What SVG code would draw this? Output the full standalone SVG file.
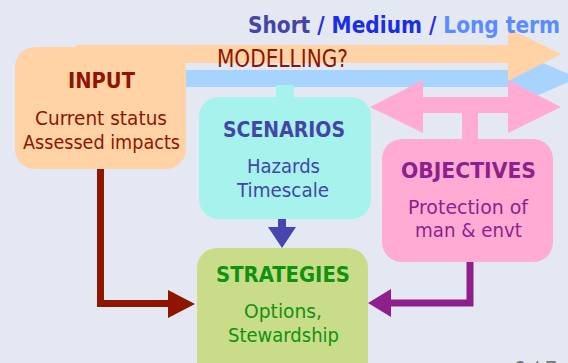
<svg xmlns="http://www.w3.org/2000/svg" width="568" height="363" viewBox="0 0 568 363">
  <style>
    text { font-family: "DejaVu Sans Condensed", "DejaVu Sans", sans-serif; }
    .ttl { font-size: 23px; font-weight: bold; }
    .hd { font-size: 22px; font-weight: bold; text-anchor: middle; }
    .bd { font-size: 19px; text-anchor: middle; }
    .box { stroke: none; }
  </style>
  <rect x="0" y="0" width="568" height="363" fill="#e4e8f2"/>

  <g id="timeline">
    <!-- blue arrow -->
    <rect x="180" y="70" width="330" height="17" fill="#a7d3ff"/>
    <polygon points="508,48 578,78 508,108" fill="#a7d3ff"/>
    <!-- orange arrow -->
    <rect x="76" y="45" width="434" height="18" fill="#ffd3a6"/>
    <polygon points="508,28 561,54 508,81" fill="#ffd3a6"/>
    <!-- pink double arrow -->
    <g id="pink-arrow" fill="#ffabd3">
      <rect x="421" y="97" width="89" height="16"/>
      <polygon points="423,80 370,107 423,133"/>
      <polygon points="508,80 561,107 508,133"/>
      <rect x="462" y="111" width="16" height="30"/>
    </g>
    <!-- cyan stem -->
    <rect x="276" y="85" width="18" height="14" fill="#a5f3ec"/>
  </g>

  <g id="title">
    <text class="ttl" x="248" y="33" textLength="312" lengthAdjust="spacingAndGlyphs"><tspan fill="#4545a6">Short</tspan><tspan fill="#1a2ee8"> / Medium / </tspan><tspan fill="#5a8cff">Long term</tspan></text>
  </g>

  <g id="input">
    <rect class="box" x="15" y="47" width="171" height="122" rx="20" fill="#ffd3a6"/>
    <text class="hd" x="101.5" y="88" fill="#8f1500" textLength="67" lengthAdjust="spacingAndGlyphs">INPUT</text>
    <text class="bd" x="101" y="125" fill="#8f1500" textLength="132" lengthAdjust="spacingAndGlyphs">Current status</text>
    <text class="bd" x="101.5" y="149" fill="#8f1500" textLength="157" lengthAdjust="spacingAndGlyphs">Assessed impacts</text>
  </g>

  <g id="modelling">
    <text x="217" y="67" font-size="24.5" fill="#8f1500" textLength="131" lengthAdjust="spacingAndGlyphs">MODELLING?</text>
  </g>

  <g id="scenarios">
    <rect class="box" x="199" y="97" width="172" height="122" rx="20" fill="#a5f3ec"/>
    <text class="hd" x="284" y="137" fill="#4545a6" textLength="122" lengthAdjust="spacingAndGlyphs">SCENARIOS</text>
    <text class="bd" x="283.5" y="173" fill="#4545a6" textLength="73" lengthAdjust="spacingAndGlyphs">Hazards</text>
    <text class="bd" x="283" y="197" fill="#4545a6" textLength="92" lengthAdjust="spacingAndGlyphs">Timescale</text>
  </g>

  <g id="objectives">
    <rect class="box" x="382" y="139" width="171" height="123" rx="20" fill="#ffabd3"/>
    <text class="hd" x="468.5" y="178" fill="#8e1f8c" textLength="135" lengthAdjust="spacingAndGlyphs">OBJECTIVES</text>
    <text class="bd" x="468" y="214" fill="#8e1f8c" textLength="120" lengthAdjust="spacingAndGlyphs">Protection of</text>
    <text class="bd" x="468.5" y="237" fill="#8e1f8c" textLength="107" lengthAdjust="spacingAndGlyphs">man &amp; envt</text>
  </g>

  <g id="strategies">
    <rect class="box" x="197" y="248" width="171" height="135" rx="20" fill="#c8dc8a"/>
    <text class="hd" x="283" y="282" fill="#0f930f" textLength="134" lengthAdjust="spacingAndGlyphs">STRATEGIES</text>
    <text class="bd" x="283" y="318" fill="#0f930f" textLength="78" lengthAdjust="spacingAndGlyphs">Options,</text>
    <text class="bd" x="283.5" y="342" fill="#0f930f" textLength="111" lengthAdjust="spacingAndGlyphs">Stewardship</text>
  </g>

  <g id="connectors">
    <path d="M100.5,169 V303.5 H170" fill="none" stroke="#8f1500" stroke-width="7"/>
    <polygon points="168,290 195,304 168,318" fill="#8f1500"/>
    <path d="M470,262 V303 H390" fill="none" stroke="#8e1f8c" stroke-width="7"/>
    <polygon points="391,289 368,303 391,317" fill="#8e1f8c"/>
    <rect x="278" y="219" width="8" height="10" fill="#4646ae"/>
    <polygon points="268,227 296,227 282,248" fill="#4646ae"/>
  </g>

  <g id="page">
    <text x="513" y="377" font-size="22" fill="#777777">6 / 7</text>
  </g>
</svg>
